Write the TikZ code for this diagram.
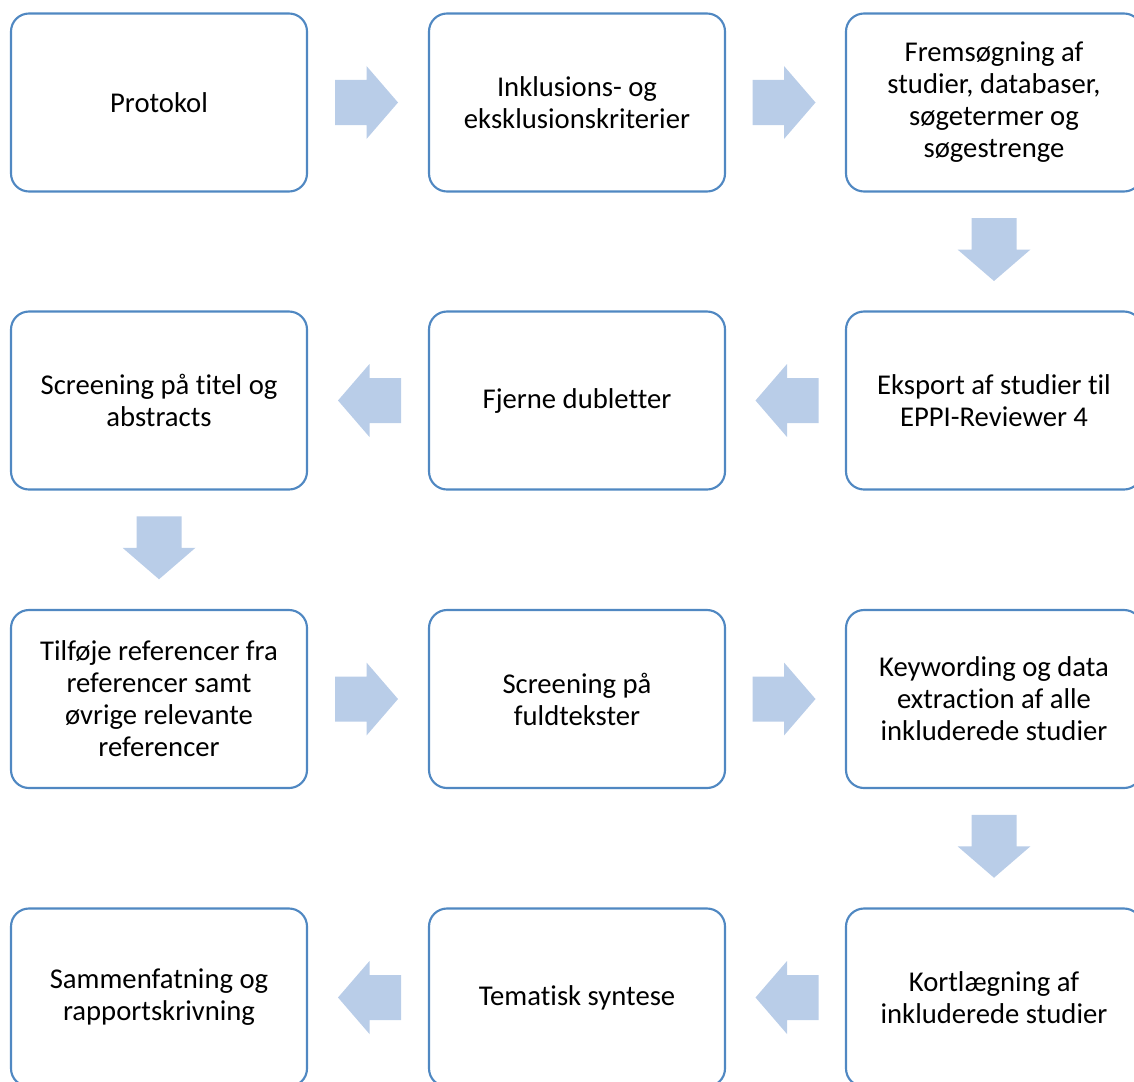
\documentclass[tikz,border=0pt]{standalone}
\usepackage{fontspec}
\setmainfont{Carlito}[Ligatures=NoCommon]
\usetikzlibrary{calc}
\definecolor{boxblue}{HTML}{5088C2}
\definecolor{arrowfill}{HTML}{B9CDE8}
\tikzset{
  box/.style={draw=boxblue, line width=1.6pt, rounded corners=13.5pt,
    minimum width=222pt, minimum height=133.5pt, align=center,
    font=\fontsize{21.5}{24}\selectfont, text=black, inner sep=0pt},
  blockarrow/.pic={\fill[arrowfill] (-31.5,-22.5) -- (0,-22.5) -- (0,-36.5) -- (31.5,0)
      -- (0,36.5) -- (0,22.5) -- (-31.5,22.5) -- cycle;}
}
\begin{document}
\begin{tikzpicture}[x=0.75pt,y=-0.75pt]
\useasboundingbox (0,0) rectangle (1134,1081);
\clip (0,0) rectangle (1134,1081);
\node[box] (b1) at (159,102.5) {Protokol};
\node[box] (b2) at (577,102.5) {Inklusions- og\\eksklusionskriterier};
\node[box] (b3) at (994,102.5) {Fremsøgning af\\studier, databaser,\\søgetermer og\\søgestrenge};
\node[box] (b4) at (994,400.5) {Eksport af studier til\\EPPI-Reviewer 4};
\node[box] (b5) at (577,400.5) {Fjerne dubletter};
\node[box] (b6) at (159,400.5) {Screening på titel og\\abstracts};
\node[box] (b7) at (159,699) {Tilføje referencer fra\\referencer samt\\øvrige relevante\\referencer};
\node[box] (b8) at (577,699) {Screening på\\fuldtekster};
\node[box] (b9) at (994,699) {Keywording og data\\extraction af alle\\inkluderede studier};
\node[box] (b10) at (994,997.5) {Kortlægning af\\inkluderede studier};
\node[box] (b11) at (577,997.5) {Tematisk syntese};
\node[box] (b12) at (159,997.5) {Sammenfatning og\\rapportskrivning};
\pic at ($(b1.east)!0.5!(b2.west)+(-1.5,0)$) {blockarrow};
\pic at ($(b2.east)!0.5!(b3.west)+(-1.5,0)$) {blockarrow};
\pic[rotate=-90] at ($(b3.south)!0.5!(b4.north)+(0,-2)$) {blockarrow};
\pic[rotate=180] at ($(b4.west)!0.5!(b5.east)+(1.5,0)$) {blockarrow};
\pic[rotate=180] at ($(b5.west)!0.5!(b6.east)+(1.5,0)$) {blockarrow};
\pic[rotate=-90] at ($(b6.south)!0.5!(b7.north)+(0,-2)$) {blockarrow};
\pic at ($(b7.east)!0.5!(b8.west)+(-1.5,0)$) {blockarrow};
\pic at ($(b8.east)!0.5!(b9.west)+(-1.5,0)$) {blockarrow};
\pic[rotate=-90] at ($(b9.south)!0.5!(b10.north)+(0,-2)$) {blockarrow};
\pic[rotate=180] at ($(b10.west)!0.5!(b11.east)+(1.5,0)$) {blockarrow};
\pic[rotate=180] at ($(b11.west)!0.5!(b12.east)+(1.5,0)$) {blockarrow};
\end{tikzpicture}
\end{document}
